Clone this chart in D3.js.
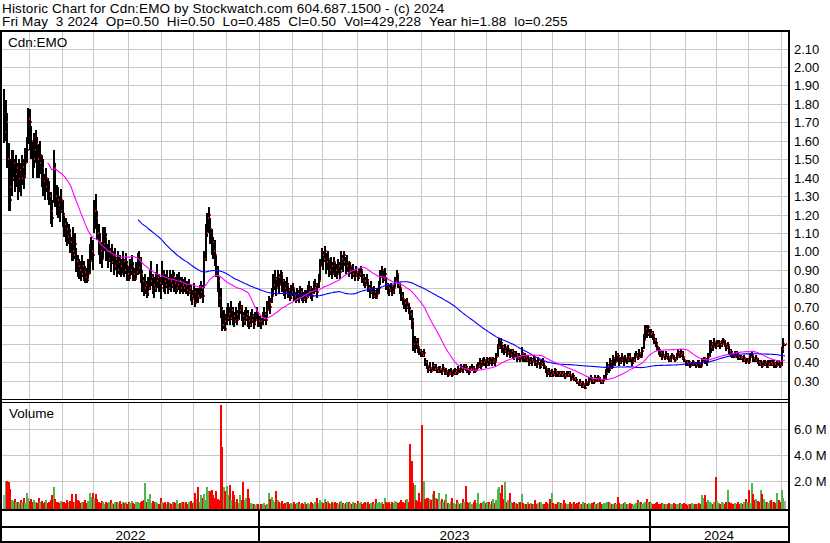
<!DOCTYPE html>
<html>
<head>
<meta charset="utf-8">
<script src="https://cdn.jsdelivr.net/npm/d3@7"></script>
<style>
  body { margin: 0; background: #fff; }
  svg { display: block; font-family: Arial, "Liberation Sans", sans-serif; }
</style>
</head>
<body>
<svg width="830" height="543"></svg>
<script>
// header text
const headerLines = [
  "Historic Chart for Cdn:EMO by Stockwatch.com 604.687.1500 - (c) 2024",
  "Fri May  3 2024  Op=0.50  Hi=0.50  Lo=0.485  Cl=0.50  Vol=429,228  Year hi=1.88  lo=0.255"
];
const symbolLabel = "Cdn:EMO";
const volumeLabel = "Volume";
const priceTicks = [0.30,0.40,0.50,0.60,0.70,0.80,0.90,1.00,1.10,1.20,1.30,1.40,1.50,1.60,1.70,1.80,1.90,2.00,2.10];
const volumeTicks = [2e6, 4e6, 6e6];
const volumeTickLabels = ["2.0 M", "4.0 M", "6.0 M"];
const firstDay = new Date(2022, 4, 9);
const lastDay = new Date(2024, 4, 3);
const maShort = 30, maLong = 90;

// daily prices in cents, trading days May 9 2022 .. May 3 2024
const closes = [
  165,170,150,135,128,140,148,142,145,139, 144,140,146,141,148,155,172,170,160,150,
  155,158,150,148,152,145,138,135,140,133, 130,122,118,145,130,128,125,122,128,120,
  115,112,108,110,105,100,98,104,95,92, 90,88,92,89,86,85,88,95,100,98,
  122,118,110,105,100,96,104,108,100,96, 100,94,98,92,96,90,94,92,88,95,
  90,93,88,86,90,92,88,85,89,91, 96,88,84,80,82,78,80,84,86,82,
  80,84,86,83,80,88,84,82,85,80, 84,82,86,83,80,82,84,80,82,80,
  82,79,78,80,76,74,78,72,76,75, 78,80,76,96,110,118,120,112,105,100,
  98,90,84,75,68,60,62,58,64,66, 64,68,65,62,66,63,68,70,65,62,
  64,66,62,60,63,65,61,63,66,62, 62,60,64,66,63,68,72,70,76,82,
  85,80,86,82,88,84,80,78,82,79, 76,78,80,76,74,77,75,78,76,74,
  76,75,78,80,77,76,80,82,78,84, 92,98,96,100,94,96,90,92,88,94,
  90,88,92,89,96,94,98,92,94,90, 92,88,90,87,89,86,88,90,86,84,
  82,84,80,78,80,76,78,75,77,80, 86,90,85,88,82,80,79,81,78,80,
  84,88,82,80,76,74,72,70,72,68, 66,62,50,52,50,48,46,45,44,45,
  40,38,36,37,35,38,36,37,35,36, 36,35,37,34,35,33,34,35,33,34,
  35,34,36,35,37,36,38,37,36,35, 36,37,36,35,37,38,40,38,40,41,
  39,41,40,42,40,41,40,43,48,52, 50,48,46,48,45,47,44,46,45,43,
  44,42,43,41,45,42,43,41,42,40, 41,40,42,40,39,41,38,39,40,38,
  36,34,35,33,34,33,35,34,33,34, 33,34,33,32,33,34,33,31,32,31,
  30,29,28,29,27,28,26,29,28,30, 31,30,29,31,30,32,30,29,30,31,
  34,38,36,40,38,42,40,44,43,40, 41,43,40,42,41,43,42,40,41,43,
  44,42,45,43,46,52,58,56,59,55, 56,54,52,50,48,46,45,43,44,42,
  44,43,41,42,44,42,41,43,45,44, 45,43,41,40,39,40,38,39,40,39,
  38,40,39,38,40,42,41,40,43,48, 50,48,51,49,50,51,49,50,52,50,
  48,49,46,45,44,43,45,44,43,42, 43,41,42,40,41,40,43,44,42,41,
  42,40,39,40,38,39,40,38,39,40, 39,40,39,38,40,39,38,47,50,50
];
const highs = [
  188,182,175,159,150,155,155,150,152,148, 150,148,152,150,156,162,178,177,168,160,
  164,166,162,158,160,152,150,142,145,140, 138,132,128,155,148,136,135,130,134,128,
  121,118,116,115,112,108,113,110,102,98, 96,95,98,95,92,91,96,104,108,106,
  128,131,122,115,110,105,113,113,110,104, 106,102,104,100,102,97,100,98,96,100,
  96,99,95,92,96,98,94,91,94,99, 100,97,90,86,88,84,86,90,95,88,
  86,89,93,88,86,95,90,88,90,86, 90,88,90,89,86,88,89,86,86,85,
  86,84,84,85,82,79,83,80,80,80, 82,84,82,100,115,121,124,118,112,108,
  106,98,92,86,80,70,68,66,70,72, 70,73,70,67,70,68,72,73,71,67,
  68,70,68,65,67,69,66,67,70,67, 65,64,67,70,67,73,76,75,80,88,
  90,86,90,88,90,89,85,84,86,83, 80,82,83,80,78,80,79,81,80,78,
  79,79,82,84,81,80,84,85,83,88, 96,102,100,103,99,100,96,97,94,97,
  95,93,96,94,100,98,100,97,98,95, 94,92,93,90,92,89,91,92,90,88,
  86,88,85,82,84,80,81,79,80,84, 90,92,90,91,86,83,82,83,81,82,
  86,90,88,83,80,78,75,74,75,72, 70,68,64,54,53,53,48,47,46,47,
  42,41,38,40,37,40,39,39,37,38, 38,37,39,37,37,35,36,37,35,36,
  37,36,38,37,39,38,39,39,38,37, 38,39,38,37,39,40,42,41,42,43,
  41,43,42,43,43,43,42,45,50,53, 53,51,49,50,48,49,47,47,47,46,
  46,45,45,44,48,45,45,44,44,42, 43,42,44,42,41,43,40,41,42,40,
  38,36,37,35,36,35,37,36,35,35, 35,35,35,34,35,35,35,33,34,33,
  32,31,30,31,29,30,28,31,30,32, 33,32,31,33,32,33,32,31,31,33,
  36,40,39,42,41,44,43,46,45,44, 43,45,43,44,43,45,45,42,43,45,
  46,45,47,45,48,55,60,60,60,58, 58,57,55,53,51,48,47,46,46,44,
  46,45,43,44,45,44,43,45,47,46, 47,46,42,41,41,41,40,40,41,40,
  40,41,41,40,42,43,43,42,45,52, 52,51,53,51,52,52,51,52,53,52,
  50,51,49,47,46,45,46,46,45,44, 44,43,44,42,42,42,45,46,44,43,
  44,42,41,41,40,41,41,40,41,41, 41,41,41,40,41,41,40,48,53,50
];
const lows = [
  159,160,145,122,122,130,138,132,135,128, 132,130,136,134,140,148,158,155,150,140,
  145,148,140,140,142,135,130,128,132,128, 125,115,113,126,124,120,118,116,121,113,
  108,105,103,104,99,95,95,96,89,86, 85,84,86,84,83,83,84,88,94,90,
  110,112,106,98,93,91,96,100,95,91, 94,89,93,87,90,86,88,87,86,88,
  86,88,84,84,85,87,84,84,85,87, 88,83,78,76,77,75,76,79,81,77,
  75,78,80,78,74,82,78,77,80,77, 79,78,80,78,77,78,79,77,78,77,
  78,77,76,77,73,71,74,70,72,72, 74,75,72,80,95,108,110,104,98,96,
  92,86,78,70,64,57,58,57,60,62, 60,63,60,59,61,60,63,66,62,59,
  60,62,59,58,59,61,58,60,62,59, 59,58,60,62,60,64,68,66,72,76,
  79,76,80,77,82,78,76,74,78,75, 73,74,76,73,72,73,72,75,73,72,
  73,72,75,76,74,73,77,78,75,80, 84,92,90,94,88,90,86,87,85,88,
  86,85,87,85,90,89,92,88,89,86, 88,85,86,84,86,84,85,86,83,81,
  80,81,78,75,77,74,75,74,75,77, 82,86,83,84,79,77,76,78,76,77,
  80,84,80,77,73,71,69,67,69,66, 63,58,46,45,47,45,44,43,43,43,
  38,36,34,35,34,35,35,35,34,34, 34,33,35,33,33,32,33,33,32,33,
  33,33,34,34,35,34,36,35,34,33, 34,35,34,34,35,36,37,36,38,38,
  37,38,38,39,38,39,38,40,43,47, 47,45,44,45,43,44,42,43,42,41,
  42,40,41,40,41,40,40,40,40,38, 39,38,40,38,37,39,36,37,38,36,
  34,32,33,32,32,32,33,32,32,32, 32,32,32,31,32,32,32,30,31,30,
  29,28,27,27,26,26,25.5,27,27,28, 29,28,28,29,29,30,29,28,28,29,
  31,33,34,35,36,37,38,40,40,38, 39,40,38,40,39,40,40,38,39,40,
  42,41,42,42,43,47,52,53,54,53, 53,52,50,48,46,44,43,41,42,41,
  42,41,40,40,42,41,40,41,43,42, 43,41,40,38,38,38,37,38,38,38,
  37,38,37,37,38,40,39,38,40,43, 45,46,48,47,48,48,47,48,49,48,
  46,47,44,43,42,42,43,42,41,41, 41,40,40,39,40,39,40,42,40,40,
  40,39,38,38,37,38,38,37,37,38, 38,38,37,37,38,38,37,38,45,48.5
];
// daily volume, thousands of shares
const volumes = [
  900,1950,2000,1900,1400,500,450,600,350,400, 300,550,400,650,300,1100,700,450,600,350,
  500,400,300,650,350,450,300,400,550,300, 350,500,900,1500,600,400,350,300,450,350,
  400,300,500,350,450,1000,400,350,1000,500, 450,300,400,350,550,300,450,1100,800,1100,
  700,1000,600,400,300,450,350,250,400,300, 350,500,300,250,400,350,300,450,250,350,
  300,400,250,350,300,450,300,250,400,350, 300,350,450,500,1800,400,600,1000,300,450,
  350,400,300,250,700,350,300,400,250,350, 300,250,400,350,300,550,250,300,350,400,
  300,350,250,400,450,300,350,1100,600,1500, 400,900,700,1000,500,1500,1250,1200,1300,900,
  700,1200,600,500,7800,4600,1500,1200,1600,900, 1700,500,1250,900,400,600,300,900,500,1900,
  500,700,1400,700,300,250,200,150,250,200, 150,250,200,300,150,250,1100,600,750,500,
  400,1200,500,350,300,450,250,300,400,350, 250,300,200,350,250,300,400,200,300,250,
  350,250,300,200,400,300,250,350,700,300, 500,400,300,600,350,450,300,250,350,300,
  400,300,250,350,450,300,250,300,400,350, 300,250,350,300,250,450,300,350,250,300,
  350,300,400,250,300,350,250,600,300,350, 300,400,250,700,350,300,400,250,350,300,
  450,350,300,400,550,350,300,500,600,400, 4800,3500,1800,1700,500,450,1100,400,6300,2000,
  600,700,650,600,500,1000,1200,700,600,1100, 450,600,350,500,1000,300,250,400,650,300,
  250,500,400,200,300,600,350,1600,400,300, 350,250,400,500,300,1100,250,300,350,450,
  300,400,350,250,450,600,300,500,1400,1500, 1100,1700,600,1900,400,500,1100,350,300,400,
  300,250,350,400,1000,300,250,200,350,250, 300,250,200,500,250,300,350,400,200,250,
  350,300,250,600,1100,300,250,200,350,400, 300,250,500,300,250,200,350,250,300,400,
  250,300,350,200,250,400,300,250,200,300, 250,300,350,200,250,300,400,200,250,300,
  300,400,350,300,250,200,300,250,800,300, 250,200,300,350,200,250,300,200,150,250,
  300,500,400,350,250,300,350,600,400,350, 300,250,200,300,350,200,250,300,200,250,
  250,200,300,250,200,300,250,200,250,300, 200,250,300,200,150,250,200,300,250,200,
  250,200,300,250,900,650,900,400,500,350, 300,250,400,2300,450,300,250,400,300,250,
  350,1300,400,300,250,200,300,250,350,200, 300,250,350,600,400,1300,300,1800,1000,500,
  600,450,400,1300,1000,600,400,350,300,450, 500,400,350,300,1100,550,400,1300,700,429
];

const W = 830, H = 543;
const plotL = 2, plotR = 788, priceTop = 32, priceBottom = 399;
const volTop = 403, volBottom = 509;

const days = d3.timeDay.range(firstDay, d3.timeDay.offset(lastDay, 1))
  .filter(d => d.getDay() !== 0 && d.getDay() !== 6);
const n = closes.length;

const x = d3.scaleLinear().domain([0, n - 1]).range([4, 785]);
const y = d3.scaleLinear().domain([0.30, 2.10]).range([380.5, 48.5]);
const yv = d3.scaleLinear().domain([0, 6e6]).range([507, 428.5]);

const svg = d3.select("svg");
svg.append("rect").attr("width", W).attr("height", H).attr("fill", "#fff");

// month and year boundaries
const monthStarts = [], yearStarts = [];
for (let i = 1; i < n; i++) {
  if (days[i].getMonth() !== days[i - 1].getMonth()) monthStarts.push(i);
  if (days[i].getFullYear() !== days[i - 1].getFullYear()) yearStarts.push(i);
}
const gx = i => Math.round(x(i)) - 0.5;

const grid = svg.append("g")
  .attr("stroke", "#c8c8c8").attr("stroke-width", 1).attr("shape-rendering", "crispEdges");

grid.selectAll(".hp").data(priceTicks).enter().append("line")
  .attr("x1", plotL).attr("x2", plotR)
  .attr("y1", d => Math.round(y(d)) + 0.5).attr("y2", d => Math.round(y(d)) + 0.5);
grid.selectAll(".hv").data(volumeTicks).enter().append("line")
  .attr("x1", plotL).attr("x2", plotR)
  .attr("y1", d => Math.round(yv(d)) + 0.5).attr("y2", d => Math.round(yv(d)) + 0.5);
grid.selectAll(".vp").data(monthStarts).enter().append("line")
  .attr("x1", gx).attr("x2", gx).attr("y1", priceTop).attr("y2", priceBottom);
grid.selectAll(".vv").data(monthStarts).enter().append("line")
  .attr("x1", gx).attr("x2", gx).attr("y1", volTop).attr("y2", volBottom);

// high-low bars, then the close ticks on top
const idx = d3.range(n);
svg.append("g").attr("fill", "#000").attr("shape-rendering", "crispEdges")
  .selectAll("rect").data(idx).enter().append("rect")
  .attr("x", i => Math.round(x(i)) - 1)
  .attr("width", 2)
  .attr("y", i => Math.round(y(highs[i] / 100)))
  .attr("height", i => Math.max(1, Math.round(y(lows[i] / 100)) - Math.round(y(highs[i] / 100))));
svg.append("g").attr("fill", "#ff0000").attr("shape-rendering", "crispEdges")
  .selectAll("rect").data(idx).enter().append("rect")
  .attr("x", i => Math.round(x(i)) + 1)
  .attr("width", 1)
  .attr("y", i => Math.round(y(closes[i] / 100)) - 1)
  .attr("height", 2);

// moving averages
function movingAverage(win) {
  return idx.filter(i => i >= win - 1)
    .map(i => [i, d3.mean(closes.slice(i - win + 1, i + 1)) / 100]);
}
const line = d3.line().x(d => x(d[0])).y(d => y(d[1]));
svg.append("path").datum(movingAverage(maLong))
  .attr("fill", "none").attr("stroke", "#0000ff").attr("stroke-width", 1.1).attr("d", line);
svg.append("path").datum(movingAverage(maShort))
  .attr("fill", "none").attr("stroke", "#ff00ff").attr("stroke-width", 1.1).attr("d", line);

// volume bars
const volColor = i => {
  if (i === 0) return "#a8a8a8";
  if (closes[i] > closes[i - 1]) return "#4cb84c";
  if (closes[i] < closes[i - 1]) return "#ff0000";
  return "#a8a8a8";
};
svg.append("g").attr("shape-rendering", "crispEdges")
  .selectAll("rect").data(idx).enter().append("rect")
  .attr("x", i => Math.round(x(i)) - 1)
  .attr("width", 2)
  .attr("y", i => Math.round(yv(volumes[i] * 1000)))
  .attr("height", i => volBottom - Math.round(yv(volumes[i] * 1000)))
  .attr("fill", volColor);

// frame
const frame = svg.append("g").attr("fill", "#000").attr("shape-rendering", "crispEdges");
frame.append("rect").attr("x", 0).attr("y", 30).attr("width", plotR + 2).attr("height", 2);
frame.append("rect").attr("x", 0).attr("y", 30).attr("width", 2).attr("height", 513);
frame.append("rect").attr("x", plotR).attr("y", 30).attr("width", 2).attr("height", 513);
frame.append("rect").attr("x", 0).attr("y", 399).attr("width", plotR).attr("height", 1);
frame.append("rect").attr("x", 0).attr("y", 402).attr("width", plotR).attr("height", 1);
frame.append("rect").attr("x", 0).attr("y", volBottom).attr("width", plotR).attr("height", 2);
frame.append("rect").attr("x", 0).attr("y", 526).attr("width", plotR).attr("height", 2);
frame.append("rect").attr("x", 0).attr("y", 541).attr("width", plotR + 2).attr("height", 2);
frame.selectAll(".yl").data(yearStarts).enter().append("rect")
  .attr("x", i => Math.round(x(i)) - 2).attr("y", volBottom).attr("width", 2).attr("height", 33);

// text (non-breaking spaces keep the double gaps)
const keepSpaces = s => s.replace(/ /g, "\u00a0");
svg.selectAll(".hdr").data(headerLines).enter().append("text")
  .attr("x", 2).attr("y", (d, i) => 12.5 + i * 13.5)
  .attr("font-size", 13.5).attr("letter-spacing", 0.15).attr("fill", "#000")
  .text(d => keepSpaces(d));

svg.append("text").attr("x", 8).attr("y", 46.5).attr("font-size", 13.5).text(symbolLabel);
svg.append("text").attr("x", 9).attr("y", 418).attr("font-size", 13.5).text(volumeLabel);

svg.selectAll(".pl").data(priceTicks).enter().append("text")
  .attr("x", 794).attr("y", d => Math.round(y(d)) + 5)
  .attr("font-size", 13).attr("fill", "#000").text(d => d.toFixed(2));
svg.selectAll(".vl").data(volumeTicks).enter().append("text")
  .attr("x", 794).attr("y", (d, i) => Math.round(yv(d)) + 5)
  .attr("font-size", 13).attr("fill", "#000").text((d, i) => keepSpaces(volumeTickLabels[i]));

// year labels centred in their spans
const bounds = [plotL].concat(yearStarts.map(i => Math.round(x(i)) - 1), [plotR]);
const years = [days[0].getFullYear()].concat(yearStarts.map(i => days[i].getFullYear()));
svg.selectAll(".yr").data(years).enter().append("text")
  .attr("x", (d, i) => (bounds[i] + bounds[i + 1]) / 2)
  .attr("y", 539.5).attr("text-anchor", "middle")
  .attr("font-size", 13.5).text(d => String(d));
</script>
</body>
</html>
